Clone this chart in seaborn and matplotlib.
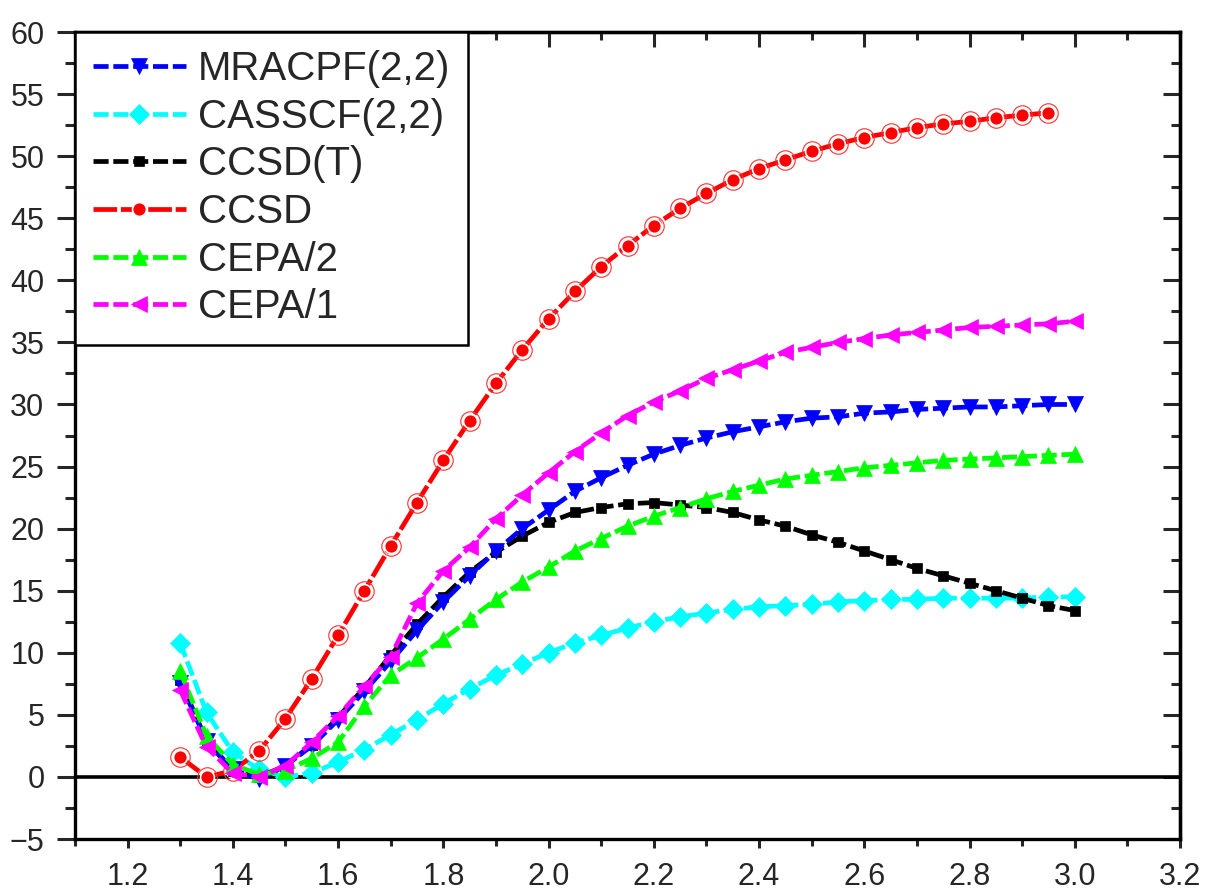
import numpy as np
import pandas as pd
import matplotlib
matplotlib.use("Agg")
import matplotlib.pyplot as plt
import seaborn as sns

# bond length grid
x = [1.30, 1.35, 1.40, 1.45, 1.50, 1.55, 1.60, 1.65, 1.70, 1.75,
     1.80, 1.85, 1.90, 1.95, 2.00, 2.05, 2.10, 2.15, 2.20, 2.25,
     2.30, 2.35, 2.40, 2.45, 2.50, 2.55, 2.60, 2.65, 2.70, 2.75,
     2.80, 2.85, 2.90, 2.95, 3.00]

mracpf = [7.6, 2.9, 0.6, -0.2, 0.9, 2.5, 4.6, 6.9, 9.3, 11.8,
          14.1, 16.2, 18.2, 20.0, 21.5, 23.0, 24.1, 25.1, 26.0, 26.7,
          27.3, 27.8, 28.2, 28.6, 28.9, 29.0, 29.3, 29.4, 29.6, 29.7,
          29.8, 29.8, 29.9, 30.0, 30.0]
casscf = [10.8, 5.2, 2.0, 0.6, 0.0, 0.3, 1.2, 2.2, 3.4, 4.6,
          5.9, 7.1, 8.2, 9.1, 10.0, 10.8, 11.4, 12.0, 12.5, 12.9,
          13.2, 13.5, 13.7, 13.8, 13.9, 14.1, 14.2, 14.3, 14.3, 14.4,
          14.4, 14.4, 14.4, 14.5, 14.5]
ccsdt = [7.8, 2.9, 0.5, 0.0, 0.9, 2.6, 4.8, 7.2, 9.8, 12.3,
         14.5, 16.5, 18.1, 19.4, 20.5, 21.3, 21.7, 22.0, 22.1, 21.9,
         21.7, 21.3, 20.7, 20.2, 19.5, 18.9, 18.2, 17.5, 16.8, 16.2,
         15.6, 15.0, 14.4, 13.8, 13.4]
# CCSD stops at 2.95
ccsd = [1.6, 0.0, 0.5, 2.1, 4.7, 7.9, 11.4, 15.0, 18.6, 22.1,
        25.5, 28.7, 31.7, 34.4, 36.9, 39.1, 41.1, 42.8, 44.4, 45.8,
        47.0, 48.1, 49.0, 49.7, 50.4, 51.0, 51.5, 51.9, 52.3, 52.6,
        52.8, 53.1, 53.3, 53.5]
cepa2 = [8.5, 3.3, 1.0, 0.2, 0.5, 1.5, 2.8, 5.7, 8.2, 9.6,
         11.1, 12.7, 14.3, 15.7, 16.9, 18.2, 19.2, 20.2, 21.0, 21.7,
         22.4, 23.0, 23.5, 24.0, 24.3, 24.6, 24.9, 25.1, 25.3, 25.5,
         25.6, 25.7, 25.8, 25.9, 26.0]
cepa1 = [7.0, 2.4, 0.3, 0.0, 0.9, 2.8, 4.9, 7.3, 9.7, 14.0,
         16.6, 18.5, 20.8, 22.7, 24.5, 26.2, 27.7, 29.1, 30.2, 31.1,
         32.1, 32.8, 33.5, 34.2, 34.6, 35.0, 35.3, 35.6, 35.8, 36.0,
         36.2, 36.3, 36.4, 36.5, 36.7]

sns.set_style("ticks")
plt.rcParams["font.family"] = ["Liberation Sans", "DejaVu Sans"]

fig, ax = plt.subplots(figsize=(12.05, 8.94), dpi=100)
fig.subplots_adjust(left=0.0622, right=0.9793, top=0.9642, bottom=0.0615)

ax.axhline(0, color="black", lw=2.6, zorder=1)

dash = (0, (3.2, 1.0))
lw = 3.4

sns.lineplot(x=x, y=mracpf, ax=ax, color="#0000ff", lw=lw, linestyle=dash,
             marker="v", ms=12, mec="#0000ff", mew=0.5, label="MRACPF(2,2)", zorder=5)
sns.lineplot(x=x, y=casscf, ax=ax, color="#00ffff", lw=lw, linestyle=dash,
             marker="D", ms=10.5, mec="#00ffff", mew=0.5, label="CASSCF(2,2)", zorder=3)
sns.lineplot(x=x, y=ccsdt, ax=ax, color="black", lw=lw, linestyle=dash,
             marker="s", ms=7, mec="black", mew=0.5, label="CCSD(T)", zorder=4)
sns.lineplot(x=x[:len(ccsd)], y=ccsd, ax=ax, color="#ff0000", lw=lw,
             linestyle=(0, (5, 0.8)), marker="o", ms=10, mec="white", mew=1.2,
             label="CCSD", zorder=3)
# thin outer ring of the CCSD markers
ax.plot(x[:len(ccsd)], ccsd, linestyle="none", marker="o", ms=14,
        mfc="none", mec="#ff3030", mew=0.8, zorder=3)
sns.lineplot(x=x, y=cepa2, ax=ax, color="#00ff00", lw=lw, linestyle=dash,
             marker="^", ms=12, mec="#00ff00", mew=0.5, label="CEPA/2", zorder=5)
sns.lineplot(x=x, y=cepa1, ax=ax, color="#ff00ff", lw=lw, linestyle=dash,
             marker="<", ms=12, mec="#ff00ff", mew=0.5, label="CEPA/1", zorder=6)

ax.set_xlim(1.1, 3.2)
ax.set_ylim(-5, 60)
ax.set_xticks(np.arange(1.2, 3.21, 0.2))
ax.set_xticks(np.arange(1.1, 3.21, 0.1), minor=True)
ax.set_yticks(np.arange(-5, 61, 5))
ax.set_yticks(np.arange(-5, 61, 2.5), minor=True)
ax.xaxis.set_major_formatter(plt.FormatStrFormatter("%.1f"))
ax.set_xlabel("")
ax.set_ylabel("")

for s in ax.spines.values():
    s.set_linewidth(2.4)
    s.set_color("black")

ax.tick_params(axis="x", which="major", direction="out", length=6.5, width=2.2,
               labelsize=22, pad=10)
ax.tick_params(axis="x", which="minor", direction="out", length=5, width=2.2)
ax.tick_params(axis="y", which="major", direction="out", length=13, width=2.2,
               labelsize=22, pad=9)
ax.tick_params(axis="y", which="minor", direction="out", length=7, width=2.2)

# inward ticks on the top and right frame
top = ax.secondary_xaxis("top")
top.set_xticks(np.arange(1.2, 3.21, 0.2))
top.set_xticks(np.arange(1.1, 3.21, 0.1), minor=True)
top.tick_params(which="major", direction="in", length=11, width=2.2, labeltop=False)
top.tick_params(which="minor", direction="in", length=6, width=2.2)
top.spines["top"].set_linewidth(2.4)
right = ax.secondary_yaxis("right")
right.set_yticks(np.arange(-5, 61, 5))
right.set_yticks(np.arange(-5, 61, 2.5), minor=True)
right.tick_params(which="major", direction="in", length=12, width=2.2, labelright=False)
right.tick_params(which="minor", direction="in", length=6.5, width=2.2)
right.spines["right"].set_linewidth(2.4)

leg = ax.legend(loc="upper left", bbox_to_anchor=(0, 1), borderaxespad=0,
                fontsize=29, handlelength=2.3, handletextpad=0.3,
                labelspacing=0.24, borderpad=0.45, frameon=True, fancybox=False)
leg.get_frame().set_edgecolor("black")
leg.get_frame().set_linewidth(1.8)
leg.get_frame().set_alpha(1)
leg.set_zorder(10)

plt.savefig("out.png", dpi=100)
plt.close()
